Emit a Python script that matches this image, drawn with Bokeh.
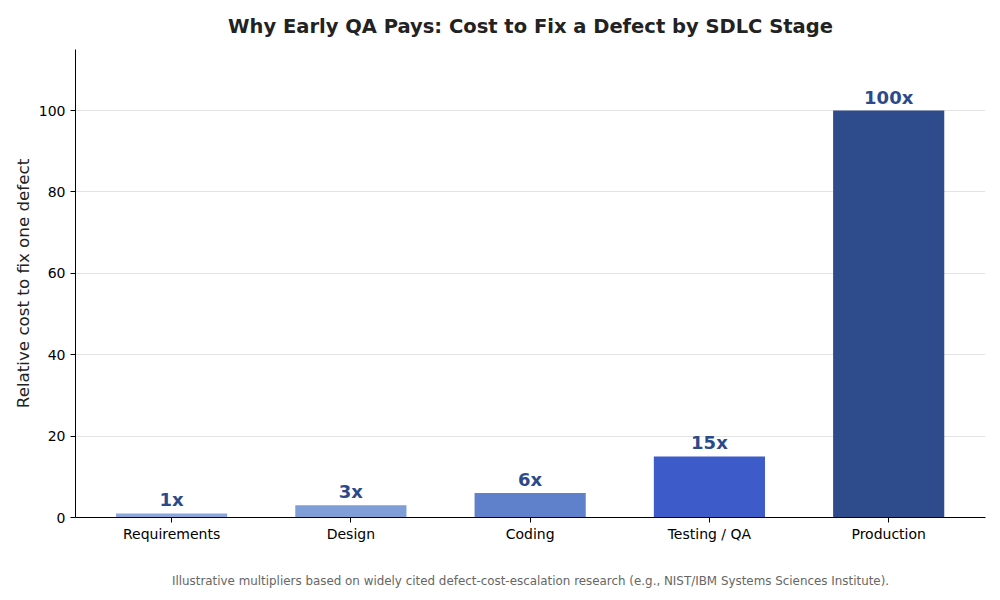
from bokeh.plotting import figure
from bokeh.models import Range1d, FixedTicker, ColumnDataSource
from bokeh.embed import file_html
from bokeh.resources import INLINE

# Stages of the software development life cycle and relative cost multipliers
stages = ["Requirements", "Design", "Coding", "Testing / QA", "Production"]
multipliers = [1, 3, 6, 15, 100]
bar_colors = ["#8da6dc", "#7f9dd7", "#5f80ca", "#3d5cc9", "#2e4c8b"]
y_ticks = [0, 20, 40, 60, 80, 100]

FONT = "DejaVu Sans"

positions = list(range(len(stages)))
source = ColumnDataSource(data=dict(
    x=positions,
    top=multipliers,
    color=bar_colors,
    label=[f"{m}x" for m in multipliers],
))

p = figure(
    width=1000, height=600,
    output_backend="svg", toolbar_location=None,
    x_range=Range1d(-0.536, 4.54), y_range=Range1d(0, 115),
    min_border_left=75, min_border_right=15,
    min_border_top=49, min_border_bottom=83,
)
p.outline_line_color = None
p.background_fill_color = "white"
p.border_fill_color = "white"

# Title
p.title.text = "Why Early QA Pays: Cost to Fix a Defect by SDLC Stage"
p.title.align = "center"
p.title.text_font = FONT
p.title.text_font_size = "19.5px"
p.title.text_font_style = "bold"
p.title.text_color = "#222222"
p.title.standoff = 24

# Bars
p.vbar(x="x", top="top", width=0.62, bottom=0, fill_color="color",
       line_color=None, source=source)

# Value labels above bars
p.text(x="x", y="top", text="label", source=source,
       text_align="center", text_baseline="bottom", y_offset=-3,
       text_font={"value": FONT}, text_font_size="18px",
       text_font_style="bold", text_color="#2c4a8a")

# Axes
p.xaxis.ticker = FixedTicker(ticks=positions)
p.xaxis.major_label_overrides = {i: s for i, s in enumerate(stages)}
p.xaxis.major_label_standoff = 3
p.yaxis.ticker = FixedTicker(ticks=y_ticks)
for ax in (p.xaxis, p.yaxis):
    ax.major_tick_out = 5
    ax.major_tick_in = 0
    ax.minor_tick_line_color = None
    ax.axis_line_color = "black"
    ax.major_tick_line_color = "black"
    ax.major_label_text_font = FONT
    ax.major_label_text_font_size = "14px"
    ax.major_label_text_color = "black"

p.yaxis.axis_label = "Relative cost to fix one defect"
p.yaxis.axis_label_text_font = FONT
p.yaxis.axis_label_text_font_size = "16.7px"
p.yaxis.axis_label_text_font_style = "normal"
p.yaxis.axis_label_text_color = "#222222"
p.yaxis.axis_label_standoff = 3

# Source note, set under the stage labels
p.xaxis.axis_label = ("Illustrative multipliers based on widely cited "
                      "defect-cost-escalation research (e.g., NIST/IBM "
                      "Systems Sciences Institute).")
p.xaxis.axis_label_text_font = FONT
p.xaxis.axis_label_text_font_size = "11.9px"
p.xaxis.axis_label_text_font_style = "normal"
p.xaxis.axis_label_text_color = "#666666"
p.xaxis.axis_label_standoff = 29

# Grid
p.xgrid.grid_line_color = None
p.ygrid.grid_line_color = "#e3e3e3"
p.ygrid.grid_line_width = 1

open("out.html", "w").write(file_html(p, INLINE))
